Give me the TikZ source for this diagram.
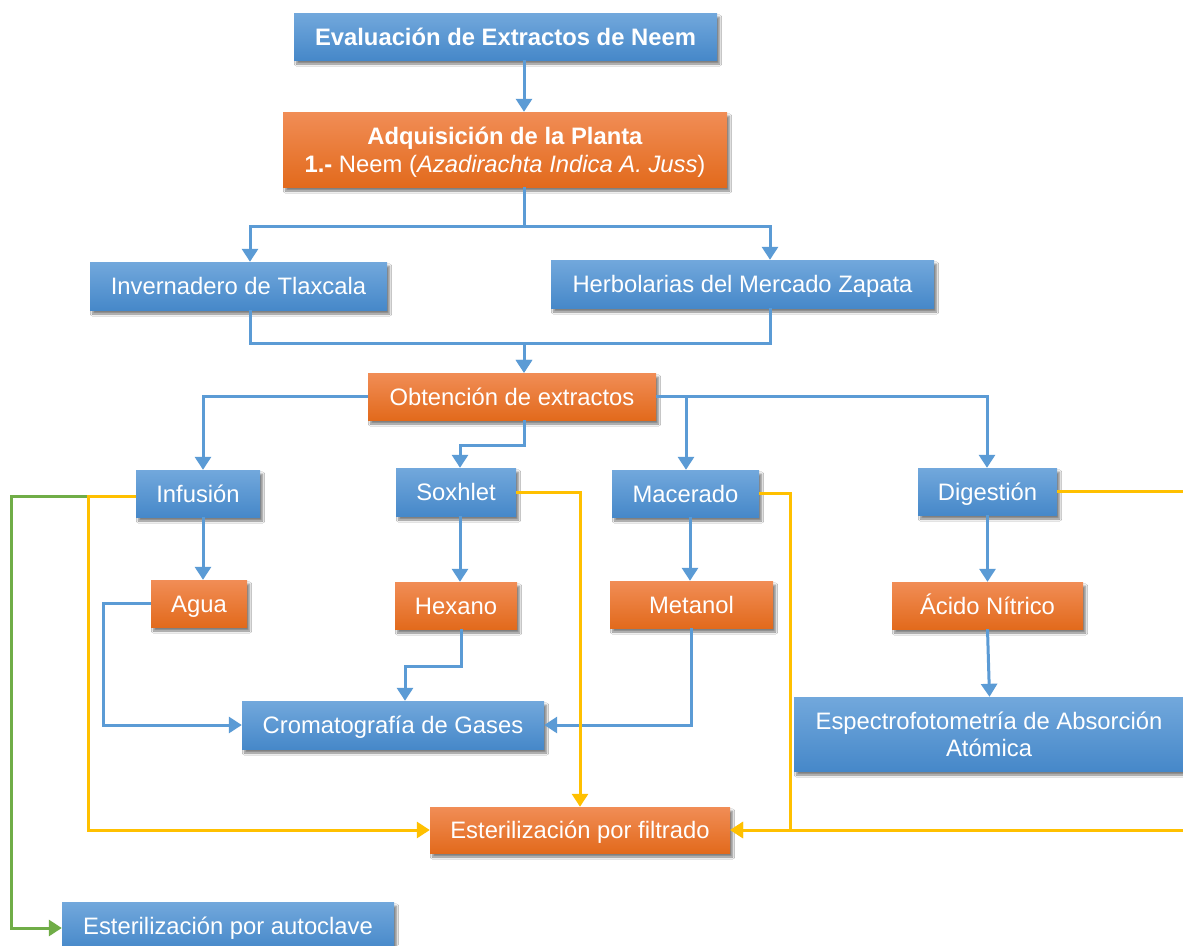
\documentclass[tikz,border=0pt]{standalone}
\usepackage{fontspec}
\setmainfont{Liberation Sans}
\usetikzlibrary{arrows.meta,shadows.blur}
\definecolor{lblue}{RGB}{91,155,213}
\definecolor{byel}{RGB}{255,192,0}
\definecolor{bgreen}{RGB}{112,173,71}
\definecolor{btop}{RGB}{114,168,220}
\definecolor{bmid}{RGB}{86,152,215}
\definecolor{bbot}{RGB}{70,136,201}
\definecolor{otop}{RGB}{241,141,86}
\definecolor{omid}{RGB}{240,121,45}
\definecolor{obot}{RGB}{226,106,28}
\tikzset{
  boxbase/.style={inner sep=0pt, text=white, align=center,
    font=\fontsize{23.8}{28}\selectfont,
    blur shadow={shadow xshift=2.5pt, shadow yshift=-4pt, shadow blur steps=6, shadow opacity=50}},
  oneline/.style={text height=17pt, text depth=0pt},
  bluebox/.style={boxbase, top color=btop, middle color=bmid, bottom color=bbot},
  orangebox/.style={boxbase, top color=otop, middle color=omid, bottom color=obot},
  bl/.style={draw=lblue, line width=3pt, -{Triangle[width=16pt,length=13pt]}},
  yl/.style={draw=byel, line width=3pt, -{Triangle[width=16pt,length=13pt]}},
  gr/.style={draw=bgreen, line width=3pt, -{Triangle[width=16pt,length=13pt]}},
}
\begin{document}
\begin{tikzpicture}[x=1pt,y=-1pt]
\useasboundingbox (0,0) rectangle (1183,945);
\fill[white] (0,0) rectangle (1183,945);
% boxes
\node[bluebox, oneline, minimum width=423pt, minimum height=47pt] (title) at (505.5,36.5) {\textbf{Evaluación de Extractos de Neem}};
\node[orangebox, text depth=0pt, minimum width=444pt, minimum height=75pt] (adq) at (505,149.5) {\textbf{Adquisición de la Planta}\\\textbf{1.-} Neem (\textit{Azadirachta Indica A. Juss})};
\node[bluebox, oneline, minimum width=297pt, minimum height=48pt] (inv) at (238.5,286) {Invernadero de Tlaxcala};
\node[bluebox, oneline, minimum width=383pt, minimum height=48pt] (herb) at (742.5,284) {Herbolarias del Mercado Zapata};
\node[orangebox, oneline, minimum width=288pt, minimum height=47pt] (obt) at (512,396.5) {Obtención de extractos};
\node[bluebox, oneline, minimum width=124pt, minimum height=47pt] (inf) at (198,493.5) {Infusión};
\node[bluebox, oneline, minimum width=120pt, minimum height=48pt] (sox) at (456,492) {Soxhlet};
\node[bluebox, oneline, minimum width=147pt, minimum height=47pt] (mac) at (685.5,493.5) {Macerado};
\node[bluebox, oneline, minimum width=139pt, minimum height=47pt] (dig) at (987.5,491.5) {Digestión};
\node[orangebox, oneline, minimum width=96pt, minimum height=47pt] (agua) at (199,603.5) {Agua};
\node[orangebox, oneline, minimum width=122pt, minimum height=47pt] (hex) at (456,605.5) {Hexano};
\node[orangebox, oneline, minimum width=163pt, minimum height=47pt] (met) at (691.5,604.5) {Metanol};
\node[orangebox, oneline, minimum width=191pt, minimum height=47pt] (acido) at (987.5,605.5) {Ácido Nítrico};
\node[bluebox, oneline, minimum width=302pt, minimum height=48pt] (crom) at (393,725) {Cromatografía de Gases};
\node[bluebox, minimum width=390pt, minimum height=74pt, font=\fontsize{23.8}{27}\selectfont] (esp) at (989,734) {Espectrofotometría de Absorción\\Atómica};
\node[orangebox, oneline, minimum width=300pt, minimum height=46pt] (filt) at (580,830) {Esterilización por filtrado};
\node[bluebox, oneline, minimum width=332pt, minimum height=48pt] (auto) at (228,926) {Esterilización por autoclave};
% blue connectors
\draw[bl] ([xshift=18.5pt]title.south) -- ([xshift=19pt]adq.north);
\draw[bl] ([xshift=19pt]adq.south) -- ++(0,39) -| ([xshift=11.5pt]inv.north);
\draw[bl] ([xshift=19pt]adq.south) -- ++(0,39) -| ([xshift=27.5pt]herb.north);
\draw[bl] ([xshift=11.5pt]inv.south) -- ++(0,33) -| ([xshift=12pt]obt.north);
\draw[bl] ([xshift=27.5pt]herb.south) -- ++(0,35) -| ([xshift=12pt]obt.north);
\draw[bl] (obt.west) -| ([xshift=5pt]inf.north);
\draw[bl] ([xshift=12pt]obt.south) -- ++(0,25) -| ([xshift=4pt]sox.north);
\draw[bl] (obt.east) -| ([xshift=0.5pt]mac.north);
\draw[bl] (obt.east) -| ([xshift=-0.5pt]dig.north);
\draw[bl] ([xshift=5pt]inf.south) -- ([xshift=4pt]agua.north);
\draw[bl] ([xshift=4pt]sox.south) -- ([xshift=4pt]hex.north);
\draw[bl] ([xshift=4.5pt]mac.south) -- ([xshift=-1.5pt]met.north);
\draw[bl] (dig.south) -- (acido.north);
\draw[bl] (acido.south) -- ([xshift=0.5pt]esp.north);
\draw[bl] (agua.west) -- ++(-47,0) |- (crom.west);
\draw[bl] ([xshift=5pt]hex.south) -- ++(0,37) -| ([xshift=12pt]crom.north);
\draw[bl] (met.south) |- (crom.east);
% green
\draw[gr] ([yshift=-2.5pt]inf.west) -- ++(-124,0) |- ([yshift=-2pt]auto.west);
% yellow
\draw[yl] ([yshift=-2.5pt]inf.west) -- ++(-47,0) |- (filt.west);
\draw[yl] (sox.east) -| (filt.north);
\draw[yl] (mac.east) -- ++(31,0) |- (filt.east);
\draw[yl] (dig.east) -- ++(140,0) |- (filt.east);
\end{tikzpicture}
\end{document}
